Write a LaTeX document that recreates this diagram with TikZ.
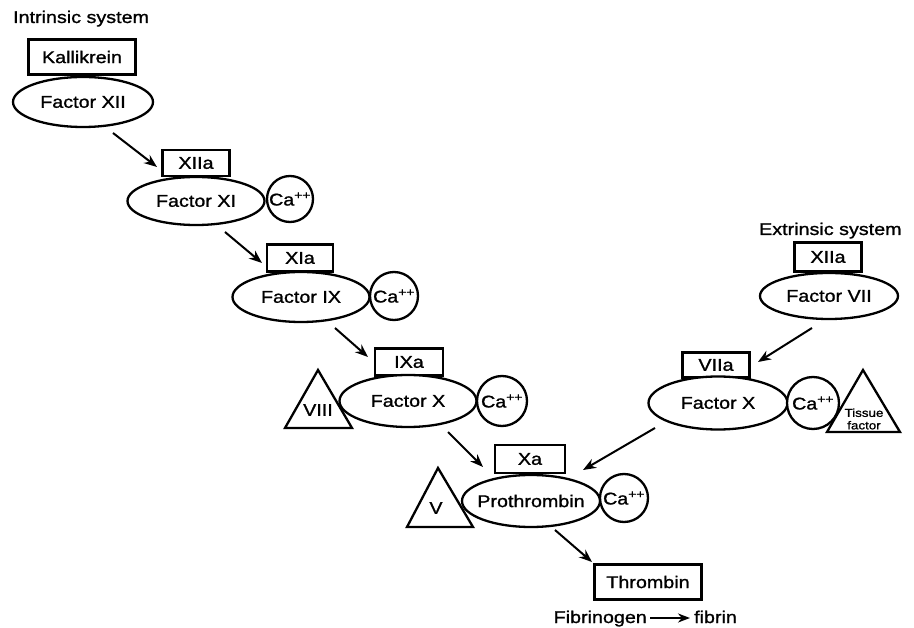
\documentclass[tikz,border=0pt]{standalone}
\usepackage{fontspec}
\setmainfont[FakeStretch=1.16,FakeBold=1.2]{Liberation Sans}
\usetikzlibrary{shapes.geometric,arrows.meta}
\begin{document}
\begin{tikzpicture}[x=1pt,y=-1pt,line width=2.3pt,line join=miter,
  lab/.style={font=\fontsize{17}{18}\selectfont},
  fac/.style={draw,fill=white,ellipse,inner ysep=0pt,inner xsep=-16pt,lab},
  enz/.style={draw,fill=white,rectangle,inner sep=0pt,lab},
  ca/.style={draw,fill=white,circle,inner sep=0pt,lab},
  tri/.style={draw,fill=white,line width=2.3pt},
  arr/.style={-{Stealth[length=13pt,width=10pt]},line width=2pt},
]
\useasboundingbox (0,0) rectangle (914,628);

% titles
\node[lab,anchor=base west,inner sep=0pt] (intr) at (12,23) {Intrinsic system};
\node[lab,anchor=base west,inner sep=0pt] (extr) at (758,235) {Extrinsic system};

% triangles (drawn first, partly covered)
\draw[tri] (318,370) -- (352,428) -- (285,428) -- cycle;
\node[lab] (viii) at (318,410) {VIII};
\draw[tri] (438,468) -- (473,527) -- (407,527) -- cycle;
\node[lab] (v) at (436,508) {V};
\draw[tri] (863,370) -- (900,432) -- (827,432) -- cycle;

% intrinsic chain
\node[enz,minimum width=107pt,minimum height=35pt] (kal) at (82,57) {Kallikrein};
\node[fac,minimum width=140pt,minimum height=50pt] (f12) at (83,102) {Factor XII};

\node[enz,minimum width=67pt,minimum height=26pt] (e12a) at (196,163) {XIIa};
\node[fac,minimum width=137pt,minimum height=48pt] (f11) at (196,201) {Factor XI};
\node[ca,minimum size=46pt] (ca1) at (290,199) {Ca\textsuperscript{++}};

\node[enz,minimum width=66pt,minimum height=27pt] (e11a) at (300,258) {XIa};
\node[fac,minimum width=137pt,minimum height=50pt] (f9) at (301,297) {Factor IX};
\node[ca,minimum size=48pt] (ca2) at (394,296) {Ca\textsuperscript{++}};

\node[enz,minimum width=68pt,minimum height=27pt] (e9a) at (409,362) {IXa};
\node[fac,minimum width=137pt,minimum height=52pt] (fx1) at (408,401) {Factor X};
\node[ca,minimum size=50pt] (ca3) at (502,401) {Ca\textsuperscript{++}};

\node[enz,minimum width=70pt,minimum height=28pt] (exa) at (530,459) {Xa};
\node[fac,minimum width=138pt,minimum height=52pt] (pro) at (531,501) {Prothrombin};
\node[ca,minimum size=48pt] (ca4) at (624,498) {Ca\textsuperscript{++}};

\node[enz,minimum width=107pt,minimum height=35pt] (thr) at (648,582) {Thrombin};

% extrinsic chain
\node[enz,minimum width=67pt,minimum height=29pt] (e12b) at (828,257) {XIIa};
\node[fac,minimum width=138pt,minimum height=46pt] (f7) at (829,296) {Factor VII};

\node[enz,minimum width=67pt,minimum height=25pt] (e7a) at (716,365) {VIIa};
\node[fac,minimum width=139pt,minimum height=53pt] (fx2) at (718,403) {Factor X};
\node[ca,minimum size=52pt] (ca5) at (813,403) {Ca\textsuperscript{++}};
\node[font=\fontsize{11.5}{12.5}\selectfont,align=center,inner sep=0pt] (tf) at (864,419) {Tissue\\factor};

% arrows
\draw[arr] ([shift={(30,31)}]f12.center) -- ([shift={(-39,-34)}]f11.center);
\draw[arr] ([shift={(29,31)}]f11.center) -- ([shift={(-39,-34)}]f9.center);
\draw[arr] ([shift={(34,31)}]f9.center) -- ([shift={(-40,-44)}]fx1.center);
\draw[arr] ([shift={(40,31)}]fx1.center) -- ([shift={(-48,-34)}]pro.center);
\draw[arr] ([shift={(24,29)}]pro.center) -- ([shift={(-56,-20)}]thr.center);
\draw[arr] ([shift={(-17,32)}]f7.center) -- ([shift={(40,-41)}]fx2.center);
\draw[arr] ([shift={(-63,25)}]fx2.center) -- ([shift={(52,-31)}]pro.center);

% fibrinogen -> fibrin
\node[lab,anchor=base east,inner sep=0pt] (fg) at (648,623) {Fibrinogen};
\node[lab,anchor=base west,inner sep=0pt] (fb) at (693,623) {fibrin};
\draw[arr,-{Stealth[length=12pt,width=9pt]}] ([xshift=2pt,yshift=5pt]fg.base east) -- ([xshift=-3pt,yshift=5pt]fb.base west);
\end{tikzpicture}
\end{document}
